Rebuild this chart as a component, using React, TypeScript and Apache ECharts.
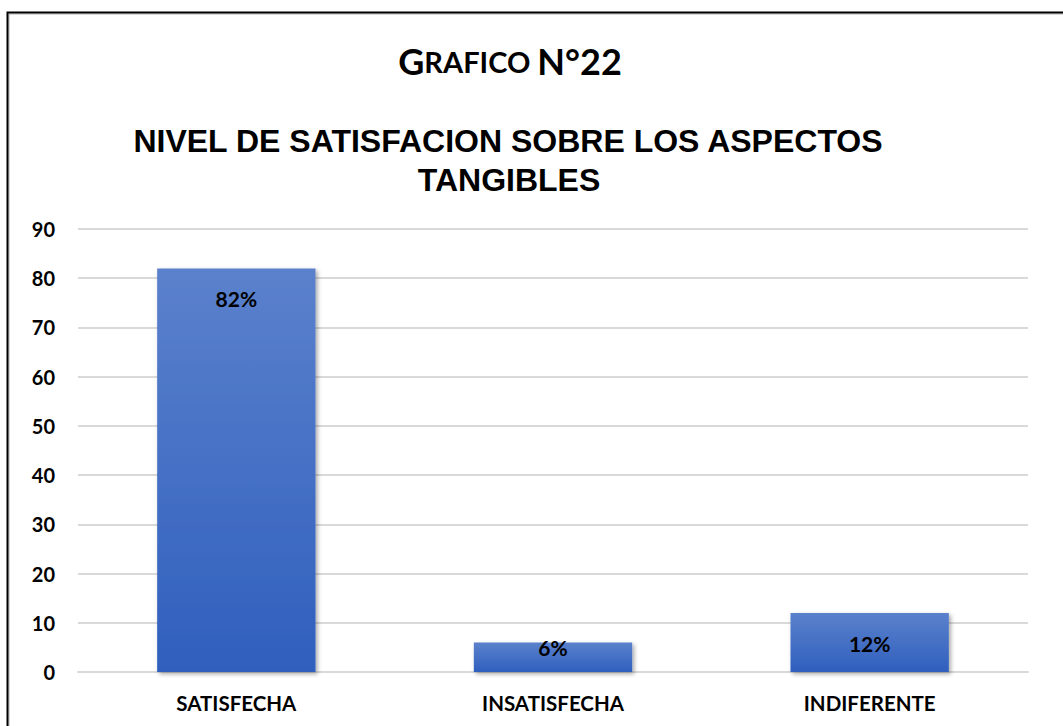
import React, { useEffect, useRef } from "react";
import * as echarts from "echarts";

const categories = ["SATISFECHA", "INSATISFECHA", "INDIFERENTE"];
const values = [82, 6, 12];
const valueLabels = ["82%", "6%", "12%"];
const yTicks = { min: 0, max: 90, interval: 10 };
const titleMain = "GRAFICO N°22";
const titleSub1 = "NIVEL DE SATISFACION SOBRE LOS ASPECTOS";
const titleSub2 = "TANGIBLES";

export default function App() {
  const ref = useRef<HTMLDivElement>(null);
  useEffect(() => {
    if (!ref.current) return;
    const chart = echarts.init(ref.current, undefined, { renderer: "svg" });
    const labelFont = "Lato, 'Open Sans', sans-serif";
    chart.setOption({
      animation: false,
      backgroundColor: "#ffffff",
      grid: { left: 78, right: 35, top: 229, bottom: 54, containLabel: false },
      xAxis: {
        type: "category",
        data: categories,
        axisLine: { lineStyle: { color: "#d9d9d9", width: 2 } },
        axisTick: { show: false },
        axisLabel: {
          color: "#000",
          fontFamily: labelFont,
          fontWeight: "bold",
          fontSize: 20.5,
          margin: 20,
        },
      },
      yAxis: {
        type: "value",
        min: yTicks.min,
        max: yTicks.max,
        interval: yTicks.interval,
        axisLine: { show: false },
        axisTick: { show: false },
        splitLine: { lineStyle: { color: "#d9d9d9", width: 2 } },
        axisLabel: {
          color: "#000",
          fontFamily: labelFont,
          fontWeight: "bold",
          fontSize: 20,
          margin: 23,
        },
      },
      series: [
        {
          type: "bar",
          barWidth: "50%",
          data: values.map((v, i) => ({
            value: v,
            label: {
              formatter: valueLabels[i],
              distance: v < 10 ? -5 : 20,
            },
          })),
          itemStyle: {
            color: new echarts.graphic.LinearGradient(0, 0, 0, 1, [
              { offset: 0, color: "#5b81cc" },
              { offset: 1, color: "#2f5fbd" },
            ]),
            shadowBlur: 4,
            shadowColor: "rgba(0,0,0,0.35)",
            shadowOffsetX: 2,
            shadowOffsetY: 2,
          },
          label: {
            show: true,
            position: "insideTop",
            color: "#000",
            fontFamily: labelFont,
            fontWeight: "bold",
            fontSize: 21,
          },
        },
      ],
      graphic: [
        {
          type: "polyline",
          shape: { points: [[9, 726], [9, 14], [1063, 14]] },
          style: { stroke: "#b0b0b0", lineWidth: 1, fill: "none" },
          silent: true,
        },
        {
          type: "polyline",
          shape: { points: [[7.5, 726], [7.5, 12.5], [1063, 12.5]] },
          style: { stroke: "#000", lineWidth: 2, fill: "none" },
          silent: true,
        },
        {
          type: "text",
          x: 510,
          y: 61,
          style: {
            text: "{a|G}{b|RAFICO }{a|N°22}",
            align: "center",
            verticalAlign: "middle",
            rich: {
              a: { fontFamily: labelFont, fontWeight: "bold", fontSize: 36, fill: "#000" },
              b: { fontFamily: labelFont, fontWeight: "bold", fontSize: 29, fill: "#000" },
            },
          },
        },
        {
          type: "text",
          x: 508,
          y: 141,
          style: {
            text: titleSub1,
            align: "center",
            verticalAlign: "middle",
            fontFamily: "'Liberation Sans', Arial, sans-serif",
            fontWeight: "bold",
            fontSize: 32,
            fill: "#000",
          },
        },
        {
          type: "text",
          x: 509,
          y: 180,
          style: {
            text: titleSub2,
            align: "center",
            verticalAlign: "middle",
            fontFamily: "'Liberation Sans', Arial, sans-serif",
            fontWeight: "bold",
            fontSize: 32,
            fill: "#000",
          },
        },
      ],
    });
    return () => chart.dispose();
  }, []);
  return (
    <div
      ref={ref}
      style={{ position: "fixed", left: 0, top: 0, width: 1063, height: 726 }}
      data-title={titleMain}
    />
  );
}
